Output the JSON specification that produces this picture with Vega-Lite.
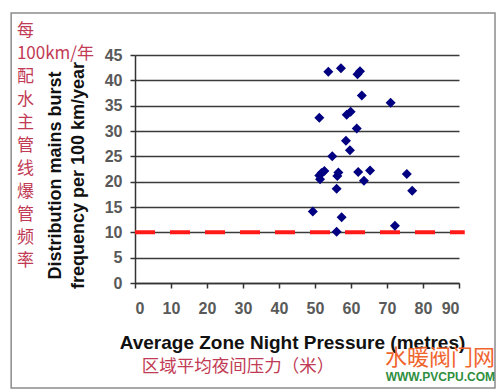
{
  "$schema": "https://vega.github.io/schema/vega-lite/v6.json",
  "width": 324,
  "height": 228,
  "autosize": "none",
  "padding": {"left": 135, "top": 55, "right": 41, "bottom": 109},
  "background": "white",
  "config": {"view": {"stroke": null}},
  "title": {
    "text": "水暖阀门网",
    "subtitle": "WWW.PVCPU.COM",
    "orient": "bottom",
    "anchor": "end",
    "frame": "group",
    "offset": 0,
    "dx": 36,
    "dy": -41,
    "font": "Noto Sans CJK SC",
    "fontSize": 22,
    "fontWeight": "normal",
    "color": "#f0642d",
    "subtitleFont": "Liberation Sans",
    "subtitleFontSize": 12,
    "subtitleFontWeight": "bold",
    "subtitleColor": "#2f8f3f",
    "subtitlePadding": 2
  },
  "datasets": {
    "bursts": [
      {"pressure": 53.7, "bursts": 41.7},
      {"pressure": 57.2, "bursts": 42.4},
      {"pressure": 61.8, "bursts": 41.2},
      {"pressure": 62.5, "bursts": 41.8},
      {"pressure": 63.0, "bursts": 37.0},
      {"pressure": 71.0, "bursts": 35.6},
      {"pressure": 51.2, "bursts": 32.6},
      {"pressure": 58.8, "bursts": 33.2},
      {"pressure": 59.9, "bursts": 33.8},
      {"pressure": 61.6, "bursts": 30.5},
      {"pressure": 58.6, "bursts": 28.1},
      {"pressure": 59.7, "bursts": 26.2},
      {"pressure": 54.8, "bursts": 25.0},
      {"pressure": 51.2, "bursts": 21.2},
      {"pressure": 51.8, "bursts": 21.7},
      {"pressure": 52.6, "bursts": 22.1},
      {"pressure": 51.4, "bursts": 20.5},
      {"pressure": 56.5, "bursts": 21.8},
      {"pressure": 56.2, "bursts": 21.1},
      {"pressure": 62.0, "bursts": 21.9},
      {"pressure": 65.3, "bursts": 22.2},
      {"pressure": 63.6, "bursts": 20.2},
      {"pressure": 56.0, "bursts": 18.6},
      {"pressure": 75.5, "bursts": 21.5},
      {"pressure": 77.0, "bursts": 18.2},
      {"pressure": 49.4, "bursts": 14.1},
      {"pressure": 57.4, "bursts": 13.0},
      {"pressure": 56.0, "bursts": 10.1},
      {"pressure": 72.2, "bursts": 11.3}
    ],
    "threshold": [{"burst_target": 10}]
  },
  "layer": [
    {
      "data": {"name": "threshold"},
      "mark": {"type": "rect", "filled": false, "stroke": "#8c8c8c", "strokeWidth": 1.5},
      "encoding": {
        "x": {"datum": -34.4, "type": "quantitative", "scale": {"domain": [0, 90]}},
        "x2": {"datum": 100},
        "y": {"datum": 53.3, "type": "quantitative", "scale": {"domain": [0, 45]}},
        "y2": {"datum": -20.7}
      }
    },
    {
      "data": {"name": "threshold"},
      "mark": {"type": "text", "align": "left", "baseline": "middle", "font": "Noto Sans CJK SC", "fontSize": 17,
        "lineHeight": 23, "color": "#c23b55"},
      "encoding": {
        "text": {"value": ["每", "100km/年", " 配", "水", "主", "管", "线", "爆", "管", "频", "率"]},
        "x": {"datum": -32.8, "type": "quantitative", "scale": {"domain": [0, 90]}},
        "y": {"datum": 49.7, "type": "quantitative", "scale": {"domain": [0, 45]}}
      }
    },
    {
      "data": {"name": "threshold"},
      "mark": {"type": "text", "align": "left", "baseline": "middle", "font": "Noto Sans CJK SC", "fontSize": 17.5,
        "color": "#c23b55"},
      "encoding": {
        "text": {"value": "区域平均夜间压力（米）"},
        "x": {"datum": 1.9, "type": "quantitative", "scale": {"domain": [0, 90]}},
        "y": {"datum": -16.6, "type": "quantitative", "scale": {"domain": [0, 45]}}
      }
    },
    {
      "data": {"name": "threshold"},
      "mark": {"type": "rule", "color": "#ff1a1a", "strokeWidth": 4, "strokeDash": [20, 15]},
      "encoding": {
        "x": {"datum": 0, "type": "quantitative", "scale": {"domain": [0, 90]}},
        "x2": {"datum": 91.6},
        "y": {"field": "burst_target", "type": "quantitative", "scale": {"domain": [0, 45]}}
      }
    },
    {
      "data": {"name": "bursts"},
      "mark": {"type": "point", "shape": "diamond", "filled": true, "size": 100, "color": "#000080", "opacity": 1},
      "encoding": {
        "x": {"field": "pressure", "type": "quantitative", "scale": {"domain": [0, 90]},
          "axis": {"tickCount": 10, "grid": false,
            "domainColor": "#333333", "domainWidth": 1.5, "tickColor": "#333333", "tickWidth": 1.5, "tickSize": 5,
            "labelFont": "Liberation Sans", "labelFontSize": 16, "labelFontWeight": "bold", "labelColor": "#595959", "labelPadding": 12,
            "title": "Average Zone Night Pressure (metres)", "titleFont": "Liberation Sans", "titleFontSize": 19, "titleFontWeight": "bold",
            "titleColor": "#111111", "titleX": 157, "titleY": 59, "titleBaseline": "middle", "titleAlign": "center"}},
        "y": {"field": "bursts", "type": "quantitative", "scale": {"domain": [0, 45]},
          "axis": {"tickCount": 9, "grid": true, "gridColor": "#3a3a3a", "gridWidth": 1.5,
            "domainColor": "#333333", "domainWidth": 1.5, "tickColor": "#333333", "tickWidth": 1.5, "tickSize": 5,
            "labelFont": "Liberation Sans", "labelFontSize": 16, "labelFontWeight": "bold", "labelColor": "#595959", "labelPadding": 8,
            "title": ["Distribution mains burst", "frequency per 100 km/year"], "titleFont": "Liberation Sans", "titleFontSize": 18,
            "titleFontWeight": "bold", "titleColor": "#111111", "titleLineHeight": 23,
            "titleAngle": -90, "titleX": -80, "titleY": 120, "titleBaseline": "middle", "titleAlign": "center"}}
      }
    }
  ]
}
